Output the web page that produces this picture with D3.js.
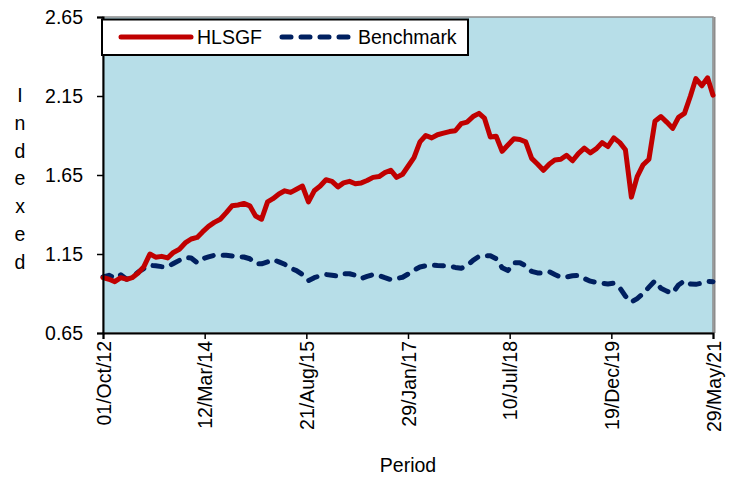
<!DOCTYPE html>
<html>
<head>
<meta charset="utf-8">
<script src="https://cdn.jsdelivr.net/npm/d3@7"></script>
<style>
body { margin: 0; background: #fff; }
text { font-family: "Liberation Sans", Arial, sans-serif; fill: #000; }
</style>
</head>
<body>
<div class="chart"></div>
<script>
// monthly observation dates (last one is the final daily close)
var periods = [
  "2012-10-01","2012-11-01","2012-12-01",
  "2013-01-01","2013-02-01","2013-03-01","2013-04-01","2013-05-01","2013-06-01",
  "2013-07-01","2013-08-01","2013-09-01","2013-10-01","2013-11-01","2013-12-01",
  "2014-01-01","2014-02-01","2014-03-01","2014-04-01","2014-05-01","2014-06-01",
  "2014-07-01","2014-08-01","2014-09-01","2014-10-01","2014-11-01","2014-12-01",
  "2015-01-01","2015-02-01","2015-03-01","2015-04-01","2015-05-01","2015-06-01",
  "2015-07-01","2015-08-01","2015-09-01","2015-10-01","2015-11-01","2015-12-01",
  "2016-01-01","2016-02-01","2016-03-01","2016-04-01","2016-05-01","2016-06-01",
  "2016-07-01","2016-08-01","2016-09-01","2016-10-01","2016-11-01","2016-12-01",
  "2017-01-01","2017-02-01","2017-03-01","2017-04-01","2017-05-01","2017-06-01",
  "2017-07-01","2017-08-01","2017-09-01","2017-10-01","2017-11-01","2017-12-01",
  "2018-01-01","2018-02-01","2018-03-01","2018-04-01","2018-05-01","2018-06-01",
  "2018-07-01","2018-08-01","2018-09-01","2018-10-01","2018-11-01","2018-12-01",
  "2019-01-01","2019-02-01","2019-03-01","2019-04-01","2019-05-01","2019-06-01",
  "2019-07-01","2019-08-01","2019-09-01","2019-10-01","2019-11-01","2019-12-01",
  "2020-01-01","2020-02-01","2020-03-01","2020-04-01","2020-05-01","2020-06-01",
  "2020-07-01","2020-08-01","2020-09-01","2020-10-01","2020-11-01","2020-12-01",
  "2021-01-01","2021-02-01","2021-03-01","2021-04-01","2021-05-01","2021-05-29"
];

var hlsgf = [
  1.00, 0.99, 0.975,
  1.00, 0.99, 1.00, 1.03, 1.07, 1.15,
  1.13, 1.135, 1.125, 1.16, 1.18, 1.22,
  1.245, 1.255, 1.29, 1.325, 1.35, 1.37,
  1.41, 1.455, 1.46, 1.47, 1.455, 1.39,
  1.37, 1.48, 1.50, 1.53, 1.55, 1.54,
  1.56, 1.58, 1.48, 1.55, 1.58, 1.62,
  1.61, 1.575, 1.60, 1.61, 1.595, 1.60,
  1.615, 1.635, 1.64, 1.665, 1.68, 1.635,
  1.655, 1.71, 1.76, 1.86, 1.90, 1.885,
  1.905, 1.915, 1.925, 1.93, 1.975, 1.985,
  2.02, 2.04, 2.01, 1.89, 1.895, 1.80,
  1.84, 1.88, 1.875, 1.86, 1.755, 1.72,
  1.68, 1.72, 1.745, 1.75, 1.775, 1.74,
  1.785, 1.82, 1.79, 1.815, 1.855, 1.83,
  1.885, 1.855, 1.81, 1.51, 1.64, 1.715,
  1.75, 1.99, 2.02, 1.985, 1.945, 2.015,
  2.04, 2.15, 2.26, 2.215, 2.265, 2.155
];

var benchmark = [
  1.005, 1.015, 0.998,
  1.018, 0.99, 1.005, 1.035, 1.058, 1.078,
  1.075, 1.07, 1.07, 1.09, 1.11, 1.128,
  1.125, 1.095, 1.12, 1.132, 1.142, 1.142,
  1.142, 1.138, 1.133, 1.131, 1.12, 1.087,
  1.088, 1.10, 1.115, 1.10, 1.085, 1.06,
  1.045, 1.02, 0.982, 1.00, 1.013, 1.02,
  1.015, 1.01, 1.025, 1.025, 1.015, 0.995,
  1.008, 1.02, 1.013, 1.00, 0.988, 0.995,
  1.003, 1.025, 1.048, 1.068, 1.075, 1.08,
  1.077, 1.075, 1.074, 1.065, 1.06, 1.075,
  1.11, 1.135, 1.138, 1.139, 1.12, 1.063,
  1.045, 1.095, 1.095, 1.075, 1.04, 1.03,
  1.03, 1.037, 1.02, 1.003, 1.005, 1.012,
  1.015, 0.995, 0.978, 0.97, 0.965, 0.96,
  0.965, 0.935, 0.883, 0.846, 0.868, 0.90,
  0.94, 0.98, 0.933, 0.915, 0.902, 0.954,
  0.98, 0.96, 0.958, 0.966, 0.976, 0.975
];

var xTickDates = ["2012-10-01","2014-03-12","2015-08-21","2017-01-29","2018-07-10","2019-12-19","2021-05-29"];
var yTicks = [0.65, 1.15, 1.65, 2.15, 2.65];
var seriesNames = ["HLSGF", "Benchmark"];

var fullWidth = 732,
    fullHeight = 477,
    margin = {top: 17, right: 19, bottom: 144, left: 103},
    width = fullWidth - margin.left - margin.right,
    height = fullHeight - margin.top - margin.bottom;

var parseDate = d3.timeParse("%Y-%m-%d");
var fmtDate = d3.timeFormat("%d/%b/%y");

var dates = periods.map(parseDate);

var svg = d3.select(".chart")
    .append("svg")
    .attr("width", fullWidth)
    .attr("height", fullHeight);

var g = svg.append("g")
    .attr("transform", "translate(" + margin.left + "," + margin.top + ")");

var x = d3.scaleTime()
    .domain([parseDate(xTickDates[0]), parseDate(xTickDates[xTickDates.length - 1])])
    .range([0, width]);

var y = d3.scaleLinear()
    .domain([0.65, 2.65])
    .range([height, 0]);

// plot area background + border
g.append("rect")
    .attr("width", width)
    .attr("height", height)
    .attr("fill", "#b7dee8")
    .attr("stroke", "#8c8c8c")
    .attr("stroke-width", 1.5);

// shadow on the right edge
g.append("line")
    .attr("x1", width + 1.5).attr("x2", width + 1.5)
    .attr("y1", 0).attr("y2", height)
    .attr("stroke", "#8c8c8c")
    .attr("stroke-width", 2);

// lines
var line = d3.line()
    .x((d, i) => x(dates[i]))
    .y(d => y(d));

g.append("path")
    .datum(benchmark)
    .attr("fill", "none")
    .attr("stroke", "#002060")
    .attr("stroke-width", 5)
    .attr("stroke-dasharray", "9,10")
    .attr("stroke-linecap", "round")
    .attr("stroke-linejoin", "round")
    .attr("d", line);

g.append("path")
    .datum(hlsgf)
    .attr("fill", "none")
    .attr("stroke", "#c00000")
    .attr("stroke-width", 5)
    .attr("stroke-linecap", "round")
    .attr("stroke-linejoin", "round")
    .attr("d", line);

// axes
var yAxis = g.append("g")
    .call(d3.axisLeft(y).tickValues(yTicks).tickFormat(d3.format(".2f")).tickSize(6).tickPadding(14));

var xAxis = g.append("g")
    .attr("transform", "translate(0," + height + ")")
    .call(d3.axisBottom(x).tickValues(xTickDates.map(parseDate)).tickFormat(fmtDate).tickSize(6));

[yAxis, xAxis].forEach(function (a) {
    a.select(".domain").attr("stroke", "#000").attr("stroke-width", 2);
    a.selectAll(".tick line").attr("stroke", "#000").attr("stroke-width", 1.5);
    a.selectAll("text").style("font-size", "19.5px").style("font-family", "Liberation Sans, Arial, sans-serif").attr("fill", "#000");
});

xAxis.selectAll(".tick text")
    .attr("text-anchor", "end")
    .attr("x", 0).attr("y", 0)
    .attr("dy", "0.36em")
    .attr("transform", "translate(0,8) rotate(-90)");

// y-axis title, one letter per line
var titleLetters = "Indexed".split("");
svg.append("text")
    .attr("x", 20)
    .attr("y", 102)
    .attr("text-anchor", "middle")
    .style("font-size", "19.5px")
    .selectAll("tspan")
    .data(titleLetters)
    .enter()
    .append("tspan")
    .attr("x", 20)
    .attr("dy", (d, i) => i == 0 ? 0 : 27.75)
    .text(d => d);

// x-axis title
svg.append("text")
    .attr("x", margin.left + width / 2)
    .attr("y", 472)
    .attr("text-anchor", "middle")
    .style("font-size", "19.5px")
    .text("Period");

// legend
var legend = svg.append("g");
legend.append("rect")
    .attr("x", 102).attr("y", 19.5)
    .attr("width", 366).attr("height", 35.5)
    .attr("fill", "#fff")
    .attr("stroke", "#000")
    .attr("stroke-width", 2);

var legendItems = [
    {name: seriesNames[0], color: "#c00000", dash: null, x: 121},
    {name: seriesNames[1], color: "#002060", dash: "9,10", x: 282}
];

legendItems.forEach(function (d) {
    legend.append("line")
        .attr("x1", d.x).attr("x2", d.x + 70)
        .attr("y1", 37).attr("y2", 37)
        .attr("stroke", d.color)
        .attr("stroke-width", 5)
        .attr("stroke-linecap", "round")
        .attr("stroke-dasharray", d.dash);
    legend.append("text")
        .attr("x", d.x + 76)
        .attr("y", 44)
        .style("font-size", "19.5px")
        .text(d.name);
});
</script>
</body>
</html>
